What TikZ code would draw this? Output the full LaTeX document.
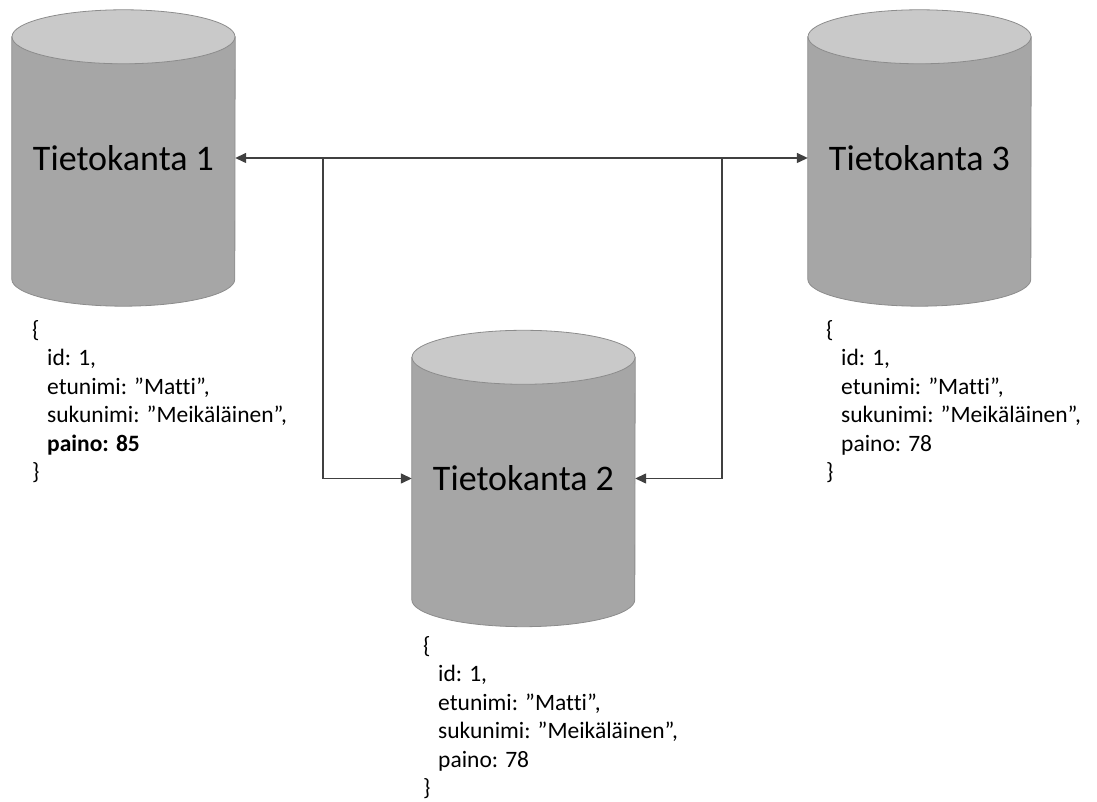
\documentclass[tikz,border=0pt]{standalone}
\usepackage{fontspec}
\setmainfont{Carlito}[Ligatures=NoCommon]
\usetikzlibrary{arrows.meta}

\definecolor{dbbody}{HTML}{A6A6A6}
\definecolor{dbtop}{HTML}{C9C9C9}
\definecolor{dbedge}{HTML}{8C8C8C}
\definecolor{linegray}{HTML}{404040}

\pgfdeclarelayer{bg}
\pgfsetlayers{bg,main}

\tikzset{
  db/.style={minimum width=223pt, minimum height=296pt, inner sep=0pt,
    font=\fontsize{36}{42}\selectfont, text=black},
  conn/.style={draw=linegray, line width=1.4pt},
  tipend/.style={-{Triangle[length=11pt,width=10pt]}},
  tipboth/.style={{Triangle[length=11pt,width=10pt]}-{Triangle[length=11pt,width=10pt]}},
  rec/.style={anchor=base west, align=left, inner sep=0pt,
    font=\fontsize{23.5}{28.5}\selectfont},
}

% cylinder drawn behind a named database node
\newcommand\dbcylinder[1]{%
  \begin{pgfonlayer}{bg}
    \filldraw[fill=dbbody, draw=dbedge, line width=0.8pt]
      ([yshift=-27pt]#1.north west) -- ([yshift=27pt]#1.south west)
      arc[start angle=180, end angle=360, x radius=111.5pt, y radius=27pt]
      -- ([yshift=-27pt]#1.north east) -- cycle;
    \filldraw[fill=dbtop, draw=dbedge, line width=0.8pt]
      ([yshift=-27pt]#1.north) ellipse[x radius=111.5pt, y radius=27pt];
  \end{pgfonlayer}}

\newcommand\ind{\hspace*{15pt}}

\begin{document}
\begin{tikzpicture}[x=1pt, y=1pt]
  \useasboundingbox (0,0) rectangle (1097,802);

  % databases
  \node[db] (db1) at (123.5,644) {Tietokanta 1};
  \node[db] (db2) at (523.5,323.5) {Tietokanta 2};
  \node[db] (db3) at (919.5,644) {Tietokanta 3};
  \dbcylinder{db1}
  \dbcylinder{db2}
  \dbcylinder{db3}

  % replication links
  \coordinate (j1) at (323,644);
  \coordinate (j2) at (722,644);
  \draw[conn, tipboth] (db1.east) -- (db3.west);
  \draw[conn, tipend] (j1) |- (db2.west);
  \draw[conn, tipend] (j2) |- (db2.east);

  % stored records (anchored at the baseline of the closing brace)
  \node[rec] (r1) at (32,322) {\{\\
    \ind id: 1,\\
    \ind etunimi: ”Matti”,\\
    \ind sukunimi: ”Meikäläinen”,\\
    \ind\textbf{paino: 85}\\
    \}};
  \node[rec] (r3) at (826,322) {\{\\
    \ind id: 1,\\
    \ind etunimi: ”Matti”,\\
    \ind sukunimi: ”Meikäläinen”,\\
    \ind paino: 78\\
    \}};
  \node[rec] (r2) at (423,6) {\{\\
    \ind id: 1,\\
    \ind etunimi: ”Matti”,\\
    \ind sukunimi: ”Meikäläinen”,\\
    \ind paino: 78\\
    \}};
\end{tikzpicture}
\end{document}
